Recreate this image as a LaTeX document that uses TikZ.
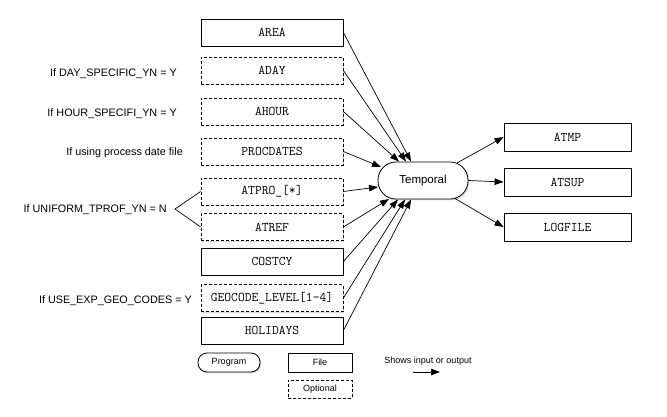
\documentclass[tikz,border=0pt]{standalone}
\usepackage{fontspec}
\setmainfont{Liberation Sans}
\usetikzlibrary{arrows.meta,shadows}
\tikzset{
  shad/.style={drop shadow={shadow xshift=1.3pt,shadow yshift=-1.3pt,opacity=0.3}},
  filebox/.style={draw, line width=0.8pt, fill=white, inner sep=0pt,
    minimum width=142pt, minimum height=27pt,
    font=\ttfamily\fontsize{13.2}{15}\selectfont, shad},
  optbox/.style={filebox, dash pattern=on 3pt off 2pt},
  outbox/.style={filebox, minimum width=127pt, minimum height=28pt},
  prog/.style={draw, line width=0.8pt, fill=white, inner sep=0pt, shad},
  cond/.style={inner sep=0pt, anchor=base east, font=\fontsize{10.8}{13}\selectfont},
  legend/.style={inner sep=0pt, font=\fontsize{9}{11}\selectfont},
  arr/.style={-{Triangle[length=9pt,width=6.5pt]}, line width=0.7pt},
  plain/.style={line width=0.7pt}
}
\begin{document}
\begin{tikzpicture}[x=1pt,y=-1pt]
\useasboundingbox (0,0) rectangle (667,416);
% input files
\node[filebox] (area)   at (272,32.5)  {AREA};
\node[optbox]  (aday)   at (272,70.5)  {ADAY};
\node[optbox]  (ahour)  at (272,111.5) {AHOUR};
\node[optbox]  (proc)   at (272,151.5) {PROCDATES};
\node[optbox]  (atpro)  at (272,191.5) {ATPRO\_[*]};
\node[optbox]  (atref)  at (272,227)   {ATREF};
\node[filebox] (costcy) at (272,261.5) {COSTCY};
\node[optbox]  (geo)    at (272,298)   {GEOCODE\_LEVEL[1-4]};
\node[filebox] (hol)    at (272,330.5) {HOLIDAYS};
% program
\node[prog, rounded corners=18pt, minimum width=90pt, minimum height=37pt,
      font=\fontsize{11.5}{13}\selectfont] (temp) at (423,180.5) {Temporal};
% outputs
\node[outbox] (atmp)  at (567.5,137) {ATMP};
\node[outbox] (atsup) at (567.5,182) {ATSUP};
\node[outbox] (logf)  at (567.5,227) {LOGFILE};
% conditions
\node[cond] (cday)  at (177,76)    {If DAY\_SPECIFIC\_YN = Y};
\node[cond] (chour) at (177,116.7) {If HOUR\_SPECIFI\_YN = Y};
\node[cond] (cproc) at (183,155)   {If using process date file};
\node[cond] (cuni)  at (167,212.7) {If UNIFORM\_TPROF\_YN = N};
\node[cond] (cgeo)  at (192,303.3) {If USE\_EXP\_GEO\_CODES = Y};
\coordinate (brace) at (175,209);
\draw[plain] (atpro.west) -- (brace) -- (atref.west);
% arrow end points on Temporal
\coordinate (t1) at (411,161.5);
\coordinate (t2) at (406,161.5);
\coordinate (t3) at (399,161.5);
\coordinate (t4) at (381,167);
\coordinate (t5) at (378,187);
\coordinate (t6) at (389,199);
\coordinate (t7) at (398,199.5);
\coordinate (t8) at (405,199.5);
\coordinate (t9) at (411,199.5);
\coordinate (o1) at (457,163);
\coordinate (o3) at (455,198.5);
\draw[arr] (area.east) -- (t1);
\draw[arr] (aday.east) -- (t2);
\draw[arr] (ahour.east) -- (t3);
\draw[arr] (proc.east) -- (t4);
\draw[arr] (atpro.east) -- (t5);
\draw[arr] (atref.east) -- (t6);
\draw[arr] (costcy.east) -- (t7);
\draw[arr] (geo.east) -- (t8);
\draw[arr] (hol.east) -- (t9);
\draw[arr] (o1) -- (atmp.west);
\draw[arr] (temp.east) -- (atsup.west);
\draw[arr] (o3) -- (logf.west);
% legend
\node[prog, rounded corners=9pt, minimum width=62pt, minimum height=19pt,
      font=\fontsize{9}{11}\selectfont] (lprog) at (229,362.5) {Program};
\node[prog, minimum width=64pt, minimum height=19pt,
      font=\fontsize{9}{11}\selectfont] (lfile) at (320,362.5) {File};
\node[prog, dash pattern=on 3pt off 2pt, minimum width=64pt, minimum height=18pt,
      font=\fontsize{9}{11}\selectfont] (lopt) at (320,389) {Optional};
\node[legend] (ltext) at (428,361) {Shows input or output};
\coordinate (la) at (413,372);
\coordinate (lb) at (440,372);
\draw[arr] (la) -- (lb);
\end{tikzpicture}
\end{document}
